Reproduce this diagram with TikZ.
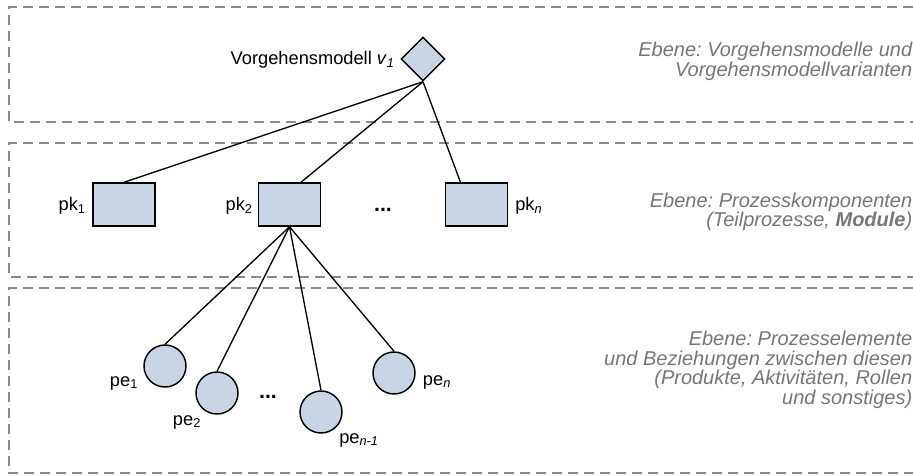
\documentclass[tikz,border=0pt]{standalone}
\usepackage{fontspec}
\setmainfont{Liberation Sans}
\usetikzlibrary{shapes.geometric,calc}
\definecolor{shapefill}{RGB}{201,213,228}
\definecolor{levelgray}{RGB}{138,138,138}
\definecolor{textgray}{RGB}{118,118,118}
\frenchspacing
\begin{document}
\begin{tikzpicture}[x=0.75pt,y=-0.75pt,
  level/.style={draw=levelgray, line width=1.3pt, dash pattern=on 7.5pt off 4.5pt},
  shapebase/.style={draw=black, fill=shapefill, line width=1.1pt, inner sep=0pt},
  diamondbox/.style={shapebase, diamond, minimum width=33pt, minimum height=33pt, aspect=1},
  pkbox/.style={shapebase, rectangle, minimum width=46.5pt, minimum height=32.25pt},
  pecircle/.style={shapebase, circle, minimum size=31.5pt},
  conn/.style={draw=black, line width=1pt},
  lbl/.style={inner sep=0pt, font=\fontsize{13.7pt}{15pt}\selectfont},
  dots/.style={inner sep=0pt, font=\fontsize{16pt}{17pt}\selectfont\bfseries},
  leveltext/.style={inner sep=0pt, anchor=east, align=right, text=textgray,
    font=\fontsize{15pt}{14.7pt}\selectfont\itshape}
]
\useasboundingbox (0,0) rectangle (913,475);

% level frames (open on the right)
\draw[level] (913,7) -- (9,7) -- (9,122) -- (913,122);
\draw[level] (913,143) -- (9,143) -- (9,277) -- (913,277);
\draw[level] (913,288) -- (9,288) -- (9,473) -- (913,473);

% level texts
\node[leveltext] (t1) at (912.5,61.5) {Ebene: Vorgehensmodelle und\\Vorgehensmodellvarianten};
\node[leveltext] (t2) at (912.5,212) {Ebene: Prozesskomponenten\\(Teilprozesse, \textbf{Module})};
\node[leveltext] (t3) at (912.5,370) {Ebene: Prozesselemente\\und Beziehungen zwischen diesen\\(Produkte, Aktivitäten, Rollen\\und sonstiges)};

% nodes
\node[diamondbox] (v) at (423,59) {};
\node[lbl, anchor=east] (vl) at (395,60) {Vorgehensmodell \textit{v}\textsubscript{\textit{1}}};

\node[pkbox] (pk1) at (124,204.5) {};
\node[pkbox] (pk2) at (289.5,204.5) {};
\node[pkbox] (pkn) at (476.5,204.5) {};
\node[lbl, anchor=east] (pk1l) at (86,206) {pk\textsubscript{1}};
\node[lbl, anchor=east] (pk2l) at (253,206) {pk\textsubscript{2}};
\node[lbl, anchor=west] (pknl) at (515,206) {pk\textsubscript{\textit{n}}};
\node[dots] (pkdots) at (383,210) {...};

\node[pecircle] (pe1) at (165,366) {};
\node[pecircle] (pe2) at (217,393) {};
\node[pecircle] (pen1) at (321,412) {};
\node[pecircle] (pen) at (394,373) {};
\node[lbl] (pe1l) at (124,383) {pe\textsubscript{1}};
\node[lbl] (pe2l) at (187,422) {pe\textsubscript{2}};
\node[lbl] (pen1l) at (359,440) {pe\textsubscript{\textit{n-1}}};
\node[lbl] (penl) at (437,382) {pe\textsubscript{\textit{n}}};
\node[dots] (pedots) at (268,397) {...};

% connectors
\draw[conn] (v.south) -- (pk1.north);
\draw[conn] (v.south) -- ([xshift=8.6pt]pk2.north);
\draw[conn] (v.south) -- ([xshift=-12pt]pkn.north);
\draw[conn] (pk2.south) -- (pe1.north);
\draw[conn] (pk2.south) -- (pe2.north);
\draw[conn] (pk2.south) -- (pen1.north);
\draw[conn] (pk2.south) -- (pen.north);
\end{tikzpicture}
\end{document}
